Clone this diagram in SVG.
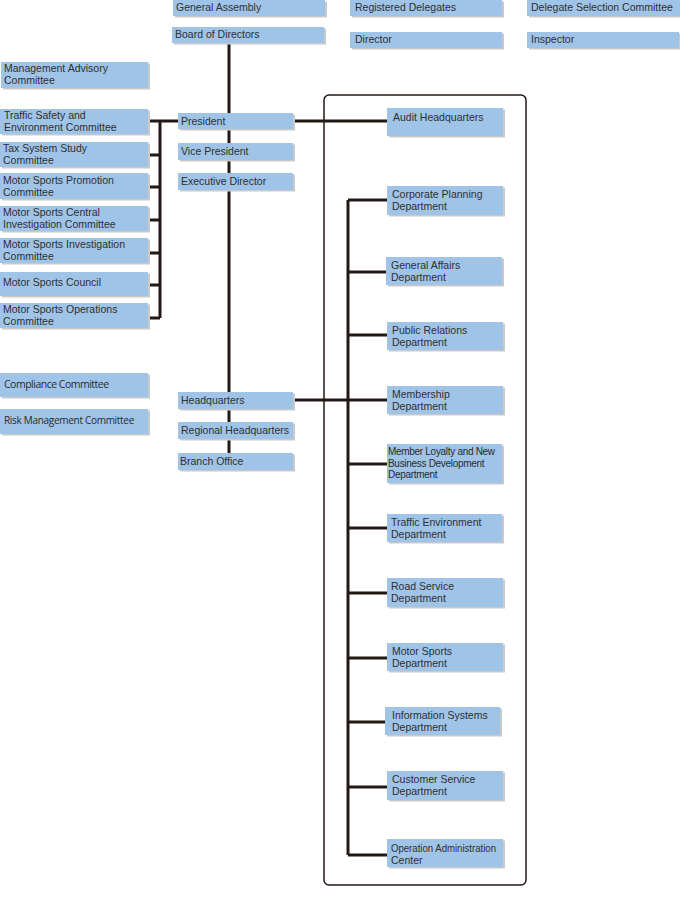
<svg xmlns="http://www.w3.org/2000/svg" width="680" height="897" viewBox="0 0 680 897">
<style>
.sh{fill:#c9c9c9}
.bx{fill:#a0c4e8}
.t{font-family:"Liberation Sans",Arial,sans-serif;font-size:10.5px;fill:#2f2f2f}
.c{font-family:"Open Sans","Noto Sans",sans-serif;font-size:10.5px;fill:#2a2a2a;letter-spacing:-0.5px}
.m{font-family:"Liberation Sans",Arial,sans-serif;font-size:10px;fill:#2a2a2a;letter-spacing:-0.3px}
.ln{stroke:#231815;stroke-width:3;fill:none}
.fr{stroke:#231815;stroke-width:1.5;fill:none}
</style>
<rect x="0" y="0" width="680" height="897" fill="#ffffff"/>
<rect class="fr" x="324" y="95" width="202" height="790" rx="5"/>
<g id="connectors">
<path class="ln" d="M229 43V454"/>
<path class="ln" d="M148 121H179M160 121V318M148 155H160M148 187H160M148 220H160M148 253H160M148 285H160M148 318H160"/>
<path class="ln" d="M293 121H388"/>
<path class="ln" d="M293 400H388"/>
<path class="ln" d="M348 200V855M348 200H388M348 272H388M348 335H388M348 464H388M348 528H388M348 593H388M348 658H388M348 722H386M348 787H388M348 855H388"/>
</g>
<g id="general-assembly"><rect class="sh" x="175" y="1.5" width="152" height="16"/><rect class="bx" x="173" y="0" width="152" height="16"/><text class="t" x="176" y="11">General Assembly</text></g>
<g id="board"><rect class="sh" x="174" y="28.5" width="152" height="16"/><rect class="bx" x="172" y="27" width="152" height="16"/><text class="t" x="175" y="38">Board of Directors</text></g>
<g id="registered"><rect class="sh" x="352" y="1.5" width="152" height="16"/><rect class="bx" x="350" y="0" width="152" height="16"/><text class="t" x="355" y="11">Registered Delegates</text></g>
<g id="delegate-selection"><rect class="sh" x="529" y="1.5" width="153" height="16"/><rect class="bx" x="527" y="0" width="153" height="16"/><text class="t" x="531" y="11">Delegate Selection Committee</text></g>
<g id="director"><rect class="sh" x="352" y="33.5" width="152" height="16"/><rect class="bx" x="350" y="32" width="152" height="16"/><text class="t" x="355" y="43">Director</text></g>
<g id="inspector"><rect class="sh" x="529" y="33.5" width="152" height="16"/><rect class="bx" x="527" y="32" width="152" height="16"/><text class="t" x="531" y="43">Inspector</text></g>

<g id="mgmt-advisory"><rect class="sh" x="3" y="63.5" width="147" height="26"/><rect class="bx" x="1" y="62" width="147" height="26"/><text class="t" x="4" y="72">Management Advisory</text><text class="t" x="4" y="84">Committee</text></g>
<g id="traffic-safety"><rect class="sh" x="2" y="110.5" width="148" height="25"/><rect class="bx" x="0" y="109" width="148" height="25"/><text class="t" x="4" y="119">Traffic Safety and</text><text class="t" x="4" y="131">Environment Committee</text></g>
<g id="tax"><rect class="sh" x="2" y="143.5" width="148" height="25"/><rect class="bx" x="0" y="142" width="148" height="25"/><text class="t" x="3" y="152">Tax System Study</text><text class="t" x="3" y="164">Committee</text></g>
<g id="ms-promotion"><rect class="sh" x="2" y="174.5" width="148" height="26"/><rect class="bx" x="0" y="173" width="148" height="26"/><text class="t" x="3" y="184">Motor Sports Promotion</text><text class="t" x="3" y="196">Committee</text></g>
<g id="ms-central"><rect class="sh" x="2" y="207.5" width="148" height="25"/><rect class="bx" x="0" y="206" width="148" height="25"/><text class="t" x="3" y="216">Motor Sports Central</text><text class="t" x="3" y="228">Investigation Committee</text></g>
<g id="ms-investigation"><rect class="sh" x="2" y="239.5" width="148" height="25"/><rect class="bx" x="0" y="238" width="148" height="25"/><text class="t" x="3" y="248">Motor Sports Investigation</text><text class="t" x="3" y="260">Committee</text></g>
<g id="ms-council"><rect class="sh" x="2" y="273.5" width="148" height="24"/><rect class="bx" x="0" y="272" width="148" height="24"/><text class="t" x="3" y="286">Motor Sports Council</text></g>
<g id="ms-operations"><rect class="sh" x="2" y="304.5" width="148" height="25"/><rect class="bx" x="0" y="303" width="148" height="25"/><text class="t" x="3" y="313">Motor Sports Operations</text><text class="t" x="3" y="325">Committee</text></g>
<g id="compliance"><rect class="sh" x="2" y="374.5" width="148" height="24"/><rect class="bx" x="0" y="373" width="148" height="24"/><text class="c" x="4" y="388">Compliance Committee</text></g>
<g id="risk"><rect class="sh" x="2" y="410.5" width="148" height="25"/><rect class="bx" x="0" y="409" width="148" height="25"/><text class="c" x="4" y="424" style="font-size:10px;letter-spacing:-0.3px">Risk Management Committee</text></g>

<g id="president"><rect class="sh" x="180" y="114.5" width="115" height="16"/><rect class="bx" x="178" y="113" width="115" height="16"/><text class="t" x="181" y="125">President</text></g>
<g id="vice-president"><rect class="sh" x="180" y="144.5" width="115" height="17"/><rect class="bx" x="178" y="143" width="115" height="17"/><text class="t" x="181" y="155">Vice President</text></g>
<g id="executive-director"><rect class="sh" x="180" y="174.5" width="115" height="17"/><rect class="bx" x="178" y="173" width="115" height="17"/><text class="t" x="181" y="185">Executive Director</text></g>
<g id="headquarters"><rect class="sh" x="180" y="393.5" width="115" height="17"/><rect class="bx" x="178" y="392" width="115" height="17"/><text class="t" x="181" y="404">Headquarters</text></g>
<g id="regional-hq"><rect class="sh" x="180" y="423.5" width="115" height="17"/><rect class="bx" x="178" y="422" width="115" height="17"/><text class="t" x="181" y="434">Regional Headquarters</text></g>
<g id="branch-office"><rect class="sh" x="180" y="454.5" width="115" height="17"/><rect class="bx" x="178" y="453" width="115" height="17"/><text class="t" x="180" y="465">Branch Office</text></g>

<g id="audit-hq"><rect class="sh" x="389" y="109.5" width="116" height="28"/><rect class="bx" x="387" y="108" width="116" height="28"/><text class="t" x="393" y="121">Audit Headquarters</text></g>
<g id="corp-planning"><rect class="sh" x="389" y="187.5" width="116" height="29"/><rect class="bx" x="387" y="186" width="116" height="29"/><text class="t" x="392" y="198">Corporate Planning</text><text class="t" x="392" y="210">Department</text></g>
<g id="general-affairs"><rect class="sh" x="388" y="258.5" width="116" height="28"/><rect class="bx" x="386" y="257" width="116" height="28"/><text class="t" x="391" y="269">General Affairs</text><text class="t" x="391" y="281">Department</text></g>
<g id="public-relations"><rect class="sh" x="389" y="323.5" width="116" height="28"/><rect class="bx" x="387" y="322" width="116" height="28"/><text class="t" x="392" y="334">Public Relations</text><text class="t" x="392" y="346">Department</text></g>
<g id="membership"><rect class="sh" x="389" y="387.5" width="116" height="28"/><rect class="bx" x="387" y="386" width="116" height="28"/><text class="t" x="392" y="398">Membership</text><text class="t" x="392" y="410">Department</text></g>
<g id="member-loyalty"><rect class="sh" x="389" y="445.5" width="115" height="39"/><rect class="bx" x="387" y="444" width="115" height="39"/><text class="m" x="388" y="455">Member Loyalty and New</text><text class="m" x="388" y="466.5">Business Development</text><text class="m" x="388" y="478">Department</text></g>
<g id="traffic-env"><rect class="sh" x="389" y="515.5" width="115" height="28"/><rect class="bx" x="387" y="514" width="115" height="28"/><text class="t" x="391" y="526">Traffic Environment</text><text class="t" x="391" y="538">Department</text></g>
<g id="road-service"><rect class="sh" x="389" y="579.5" width="116" height="29"/><rect class="bx" x="387" y="578" width="116" height="29"/><text class="t" x="391" y="590">Road Service</text><text class="t" x="391" y="602">Department</text></g>
<g id="motor-sports"><rect class="sh" x="389" y="644.5" width="116" height="28"/><rect class="bx" x="387" y="643" width="116" height="28"/><text class="t" x="392" y="655">Motor Sports</text><text class="t" x="392" y="667">Department</text></g>
<g id="info-systems"><rect class="sh" x="387" y="708.5" width="115" height="28"/><rect class="bx" x="385" y="707" width="115" height="28"/><text class="t" x="392" y="719">Information Systems</text><text class="t" x="392" y="731">Department</text></g>
<g id="customer-service"><rect class="sh" x="389" y="772.5" width="116" height="29"/><rect class="bx" x="387" y="771" width="116" height="29"/><text class="t" x="392" y="783">Customer Service</text><text class="t" x="392" y="795">Department</text></g>
<g id="operation-admin"><rect class="sh" x="389" y="840.5" width="116" height="28"/><rect class="bx" x="387" y="839" width="116" height="28"/><text class="t" x="391" y="852" textLength="105" lengthAdjust="spacingAndGlyphs">Operation Administration</text><text class="t" x="391" y="864">Center</text></g>
</svg>
